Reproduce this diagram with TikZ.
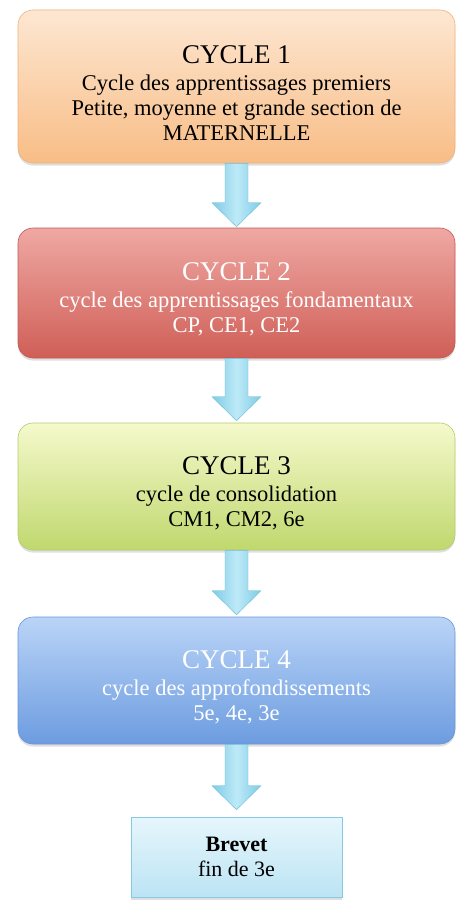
\documentclass[tikz,border=0pt]{standalone}
\usepackage{fontspec}
\setmainfont{Liberation Serif}
\usetikzlibrary{calc,shadows}
\definecolor{peche1}{HTML}{FDE7D2}
\definecolor{peche2}{HTML}{F8BD86}
\definecolor{pechebord}{HTML}{EFB27C}
\definecolor{rouge1}{HTML}{EFA8A3}
\definecolor{rouge2}{HTML}{CF5F57}
\definecolor{rougebord}{HTML}{C35A53}
\definecolor{vert1}{HTML}{F5F9CC}
\definecolor{vert2}{HTML}{C0D86E}
\definecolor{vertbord}{HTML}{B3CC6C}
\definecolor{bleu1}{HTML}{BAD4F7}
\definecolor{bleu2}{HTML}{6C9CE0}
\definecolor{bleubord}{HTML}{6895D5}
\definecolor{ciel1}{HTML}{E6F6FC}
\definecolor{ciel2}{HTML}{BCE4F4}
\definecolor{cielbord}{HTML}{88C9E2}
\definecolor{fleche1}{HTML}{7FCBE6}
\definecolor{fleche2}{HTML}{BDEAF7}
\definecolor{flechebord}{HTML}{6DBBD8}
\newcommand{\titrecycle}[1]{{\fontsize{27}{30}\selectfont\rule{0pt}{31pt}#1}}
\tikzset{
  cyclebox/.style={draw, line width=0.6pt, rounded corners=15pt, minimum width=437pt,
    inner sep=0pt, align=center, font=\fontsize{22.5}{25}\selectfont,
    drop shadow={opacity=0.25, shadow xshift=0pt, shadow yshift=-2.5pt}},
  finbox/.style={draw=cielbord, line width=0.6pt, top color=ciel1, bottom color=ciel2,
    minimum width=211pt, minimum height=80pt, inner sep=0pt, align=center,
    font=\fontsize{22}{25}\selectfont,
    drop shadow={opacity=0.25, shadow xshift=0pt, shadow yshift=-2.5pt}},
  fleche/.style={draw=flechebord, line width=0.4pt, left color=fleche1, right color=fleche1,
    middle color=fleche2}
}
\begin{document}
\begin{tikzpicture}[x=1pt,y=-1pt]
  \useasboundingbox[fill=white] (0,0) rectangle (474,915);

  \node[cyclebox, top color=peche1, bottom color=peche2, draw=pechebord, minimum height=153pt]
    (c1) at (236.5,86.5) {\titrecycle{CYCLE 1}\\[2pt]Cycle des apprentissages premiers\\Petite, moyenne et grande section de\\MATERNELLE}; %一番上の箱
  \node[cyclebox, top color=rouge1, bottom color=rouge2, draw=rougebord, minimum height=130pt,
    text=white] (c2) at (236.5,293) {\titrecycle{CYCLE 2}\\[2pt]cycle des apprentissages fondamentaux\\CP, CE1, CE2}; %赤い箱
  \node[cyclebox, top color=vert1, bottom color=vert2, draw=vertbord, minimum height=127pt]
    (c3) at (236.5,486.5) {\titrecycle{CYCLE 3}\\[2pt]cycle de consolidation\\CM1, CM2, 6e}; %緑の箱
  \node[cyclebox, top color=bleu1, bottom color=bleu2, draw=bleubord, minimum height=127pt,
    text=white] (c4) at (236.5,680.5) {\titrecycle{CYCLE 4}\\[2pt]cycle des approfondissements\\5e, 4e, 3e}; %青い箱
  \node[finbox] (br) at (236.5,857) {\textbf{Brevet}\\fin de 3e}; %下の四角

  \coordinate (p2) at ($(c2.north)+(0,-1)$);
  \coordinate (p3) at ($(c3.north)+(0,-2)$);
  \coordinate (p4) at ($(c4.north)+(0,-2)$);
  \coordinate (pb) at ($(br.north)+(0,-7)$);

  \draw[fleche] ($(c1.south)+(-11.5,0)$) -- ($(p2)+(-11.5,-24)$) -- ($(p2)+(-24.5,-24)$) -- (p2)
    -- ($(p2)+(24.5,-24)$) -- ($(p2)+(11.5,-24)$) -- ($(c1.south)+(11.5,0)$) -- cycle; %一番目の矢印
  \draw[fleche] ($(c2.south)+(-11.5,0)$) -- ($(p3)+(-11.5,-24)$) -- ($(p3)+(-24.5,-24)$) -- (p3)
    -- ($(p3)+(24.5,-24)$) -- ($(p3)+(11.5,-24)$) -- ($(c2.south)+(11.5,0)$) -- cycle; %二番目の矢印
  \draw[fleche] ($(c3.south)+(-11.5,0)$) -- ($(p4)+(-11.5,-24)$) -- ($(p4)+(-24.5,-24)$) -- (p4)
    -- ($(p4)+(24.5,-24)$) -- ($(p4)+(11.5,-24)$) -- ($(c3.south)+(11.5,0)$) -- cycle; %三番目の矢印
  \draw[fleche] ($(c4.south)+(-11.5,0)$) -- ($(pb)+(-11.5,-24)$) -- ($(pb)+(-24.5,-24)$) -- (pb)
    -- ($(pb)+(24.5,-24)$) -- ($(pb)+(11.5,-24)$) -- ($(c4.south)+(11.5,0)$) -- cycle; %最後の矢印
\end{tikzpicture}
\end{document}
